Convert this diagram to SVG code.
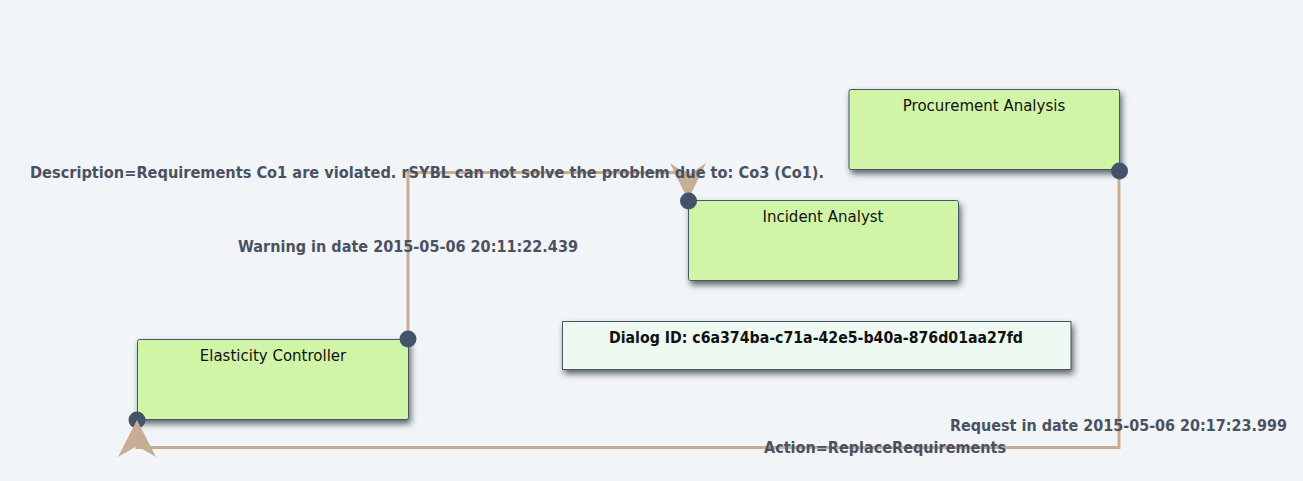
<svg xmlns="http://www.w3.org/2000/svg" width="1303" height="481" viewBox="0 0 1303 481">
  <defs>
    <filter id="shadow" x="-10%" y="-20%" width="130%" height="170%">
      <feDropShadow dx="2" dy="4" stdDeviation="3" flood-color="#1f2833" flood-opacity="0.7"/>
    </filter>
  </defs>
  <style>
    .node rect { fill: #d1f5a7; stroke: #4a5565; stroke-width: 1; filter: url(#shadow); }
    .dialog rect { fill: #eef9f1; stroke: #4a5565; stroke-width: 1; filter: url(#shadow); }
    .ntext { font-family: "DejaVu Sans", Verdana, sans-serif; font-size: 15px; fill: #111; text-anchor: middle; }
    .dtext { font-family: "DejaVu Sans Condensed", "DejaVu Sans", sans-serif; font-stretch: condensed; font-weight: bold; font-size: 16px; fill: #111; }
    .wire { fill: none; stroke: #c8ad95; stroke-width: 3; }
    .arrow { fill: #c8ad95; stroke: none; }
    .ep { fill: #43536a; }
    .label { font-family: "DejaVu Sans Condensed", "DejaVu Sans", sans-serif; font-stretch: condensed; font-weight: bold; font-size: 16px; fill: #4a5161; }
  </style>
  <rect x="0" y="0" width="1303" height="481" fill="#f2f5f8"/>

  <g id="procurement-analysis" class="node">
    <rect x="849" y="89.5" width="270.5" height="80" rx="2"/>
    <text class="ntext" x="984" y="111">Procurement Analysis</text>
  </g>

  <g id="incident-analyst" class="node">
    <rect x="688.5" y="200.5" width="270" height="80" rx="2"/>
    <text class="ntext" x="823" y="222">Incident Analyst</text>
  </g>

  <g id="elasticity-controller" class="node">
    <rect x="137.5" y="339.5" width="271" height="80" rx="2"/>
    <text class="ntext" x="273" y="361">Elasticity Controller</text>
  </g>

  <g id="dialog" class="dialog">
    <rect x="562.5" y="321.5" width="508.5" height="48"/>
    <text class="dtext" x="609" y="343" textLength="414" lengthAdjust="spacingAndGlyphs">Dialog ID: c6a374ba-c71a-42e5-b40a-876d01aa27fd</text>
  </g>

  <g id="connectors">
    <path class="wire" d="M408,339 L408,172.5 L688,172.5 L688,180"/>
    <polygon class="arrow" points="688,200 706,163 688,175 670,163"/>
    <circle class="ep" cx="688.5" cy="201" r="8.5"/>
    <circle class="ep" cx="408" cy="339" r="8.5"/>

    <path class="wire" d="M1119,171 L1119,447.5 L137,447.5 L137,440"/>
    <circle class="ep" cx="1119.5" cy="171" r="8.5"/>
    <circle class="ep" cx="137" cy="420" r="8.5"/>
    <polygon class="arrow" points="137,420 156,457 137,446 118,457"/>

    <text class="label" x="30" y="178" textLength="794" lengthAdjust="spacingAndGlyphs">Description=Requirements Co1 are violated. rSYBL can not solve the problem due to: Co3 (Co1).</text>
    <text class="label" x="238" y="252" textLength="340" lengthAdjust="spacingAndGlyphs">Warning in date 2015-05-06 20:11:22.439</text>
    <text class="label" x="950" y="431" textLength="337" lengthAdjust="spacingAndGlyphs">Request in date 2015-05-06 20:17:23.999</text>
    <text class="label" x="764" y="453" textLength="242" lengthAdjust="spacingAndGlyphs">Action=ReplaceRequirements</text>
  </g>
</svg>
